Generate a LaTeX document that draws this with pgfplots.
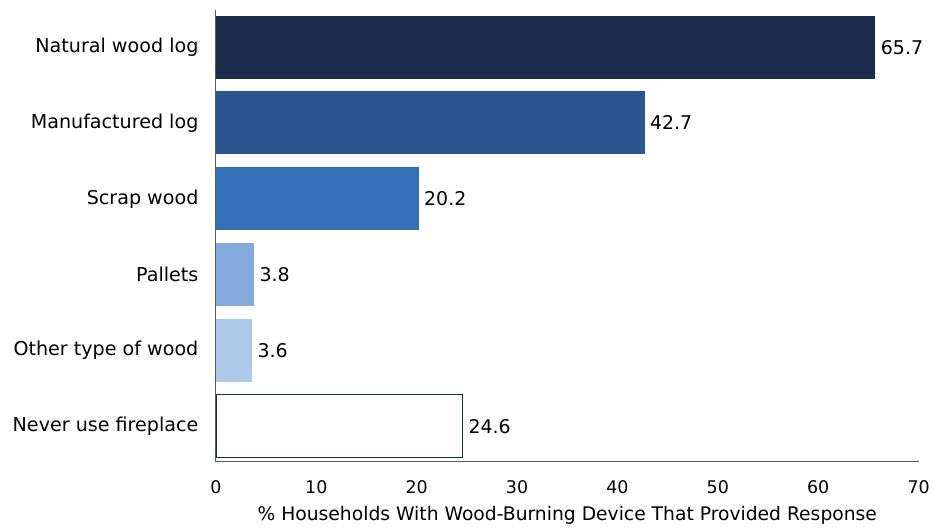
\documentclass[border=0pt]{standalone}
\usepackage{fontspec}
\setmainfont{DejaVu Sans}
\usepackage{pgfplots}
\pgfplotsset{compat=1.18}
\definecolor{c1}{HTML}{1B2D4C}
\definecolor{c2}{HTML}{2A5590}
\definecolor{c3}{HTML}{3370B6}
\definecolor{c4}{HTML}{85ABDC}
\definecolor{c5}{HTML}{AFC9E8}
\definecolor{axgray}{HTML}{5A5A5A}
\begin{document}
\begin{tikzpicture}
\begin{axis}[
  at={(0,0)}, anchor=south west,
  scale only axis,
  width=703bp, height=452bp,
  xmin=0, xmax=70,
  ymin=-0.49, ymax=5.47,
  y dir=reverse,
  axis lines*=left,
  axis line style={axgray, line width=1pt},
  xtick={0,10,...,70},
  ytick={0,1,2,3,4,5},
  yticklabels={Natural wood log,Manufactured log,Scrap wood,Pallets,Other type of wood,Never use fireplace},
  major tick length=0pt,
  /pgf/number format/assume math mode=true,
  xticklabel style={font=\fontsize{17.5}{20}\selectfont, yshift=-15bp},
  yticklabel style={font=\fontsize{19.2}{22}\selectfont, xshift=-14bp},
  xlabel={\% Households With Wood-Burning Device That Provided Response},
  xlabel style={font=\fontsize{18.8}{21}\selectfont, yshift=-6bp},
  xbar, bar width=0.83, bar shift=0pt,
  nodes near coords,
  nodes near coords style={font=\fontsize{19}{22}\selectfont, anchor=west, xshift=2bp},
  point meta=explicit symbolic,
  clip=false,
]
\addplot[fill=c1, draw=none] coordinates {(65.7,0) [65.7]};
\addplot[fill=c2, draw=none] coordinates {(42.7,1) [42.7]};
\addplot[fill=c3, draw=none] coordinates {(20.2,2) [20.2]};
\addplot[fill=c4, draw=none] coordinates {(3.8,3) [3.8]};
\addplot[fill=c5, draw=none] coordinates {(3.6,4) [3.6]};
\addplot[fill=white, draw=c1, line width=0.8pt] coordinates {(24.6,5) [24.6]};
\end{axis}
\path[use as bounding box] (-216bp,-65bp) rectangle (717bp,462bp);
\end{tikzpicture}
\end{document}
